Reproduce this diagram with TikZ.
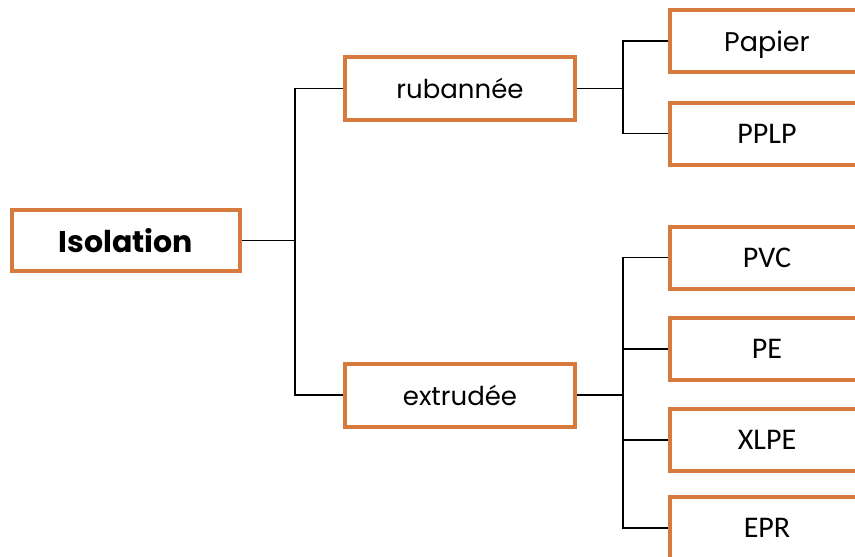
\documentclass[tikz,border=0pt]{standalone}
\usepackage{fontspec}
\setmainfont{Carlito}
\newfontfamily\geo{Poppins}
\definecolor{boxorange}{HTML}{D67A3E}
\begin{document}
\begin{tikzpicture}[x=1pt,y=-1pt,
  box/.style={draw=boxorange, line width=4pt, fill=white, inner sep=0pt, minimum height=62pt},
  mainbox/.style={box, minimum width=228pt, minimum height=61pt, font=\geo\bfseries\fontsize{30}{30}\selectfont},
  midbox/.style={box, minimum width=230pt, minimum height=63pt, font=\geo\fontsize{26}{26}\selectfont},
  leafbox/.style={box, minimum width=194pt, font=\fontsize{30}{30}\selectfont},
  geoleaf/.style={leafbox, text depth=0pt, font=\geo\fontsize{27}{27}\selectfont},
  conn/.style={draw=black, line width=1.2pt}]
\useasboundingbox (0,0) rectangle (855,557);
\clip (0,0) rectangle (855,557);
\fill[white] (0,0) rectangle (855,557);
\node[mainbox] (iso) at (126,240.5) {Isolation};
\node[midbox] (rub) at (460,88.5) {rubannée};
\node[midbox] (ext) at (460,395) {extrudée};
\node[geoleaf] (pap) at (767,41) {Papier};
\node[leafbox] (pplp) at (767,133.5) {PPLP};
\node[leafbox] (pvc) at (767,257.5) {PVC};
\node[leafbox] (pe) at (767,349) {PE};
\node[leafbox] (xlpe) at (767,440) {XLPE};
\node[leafbox] (epr) at (767,528) {EPR};
\coordinate (j1) at (295,240.5);
\coordinate (j2) at (623,88.5);
\coordinate (j3) at (623,395);
\draw[conn] (iso.east) -- (j1);
\draw[conn] (rub.west) -| (j1) |- (ext.west);
\draw[conn] (rub.east) -- (j2);
\draw[conn] (pap.west) -| (j2) |- (pplp.west);
\draw[conn] (ext.east) -- (j3);
\draw[conn] (pvc.west) -| (j3) |- (epr.west);
\draw[conn] (pe.west) -- (pe.west -| j3);
\draw[conn] (xlpe.west) -- (xlpe.west -| j3);
\end{tikzpicture}
\end{document}
